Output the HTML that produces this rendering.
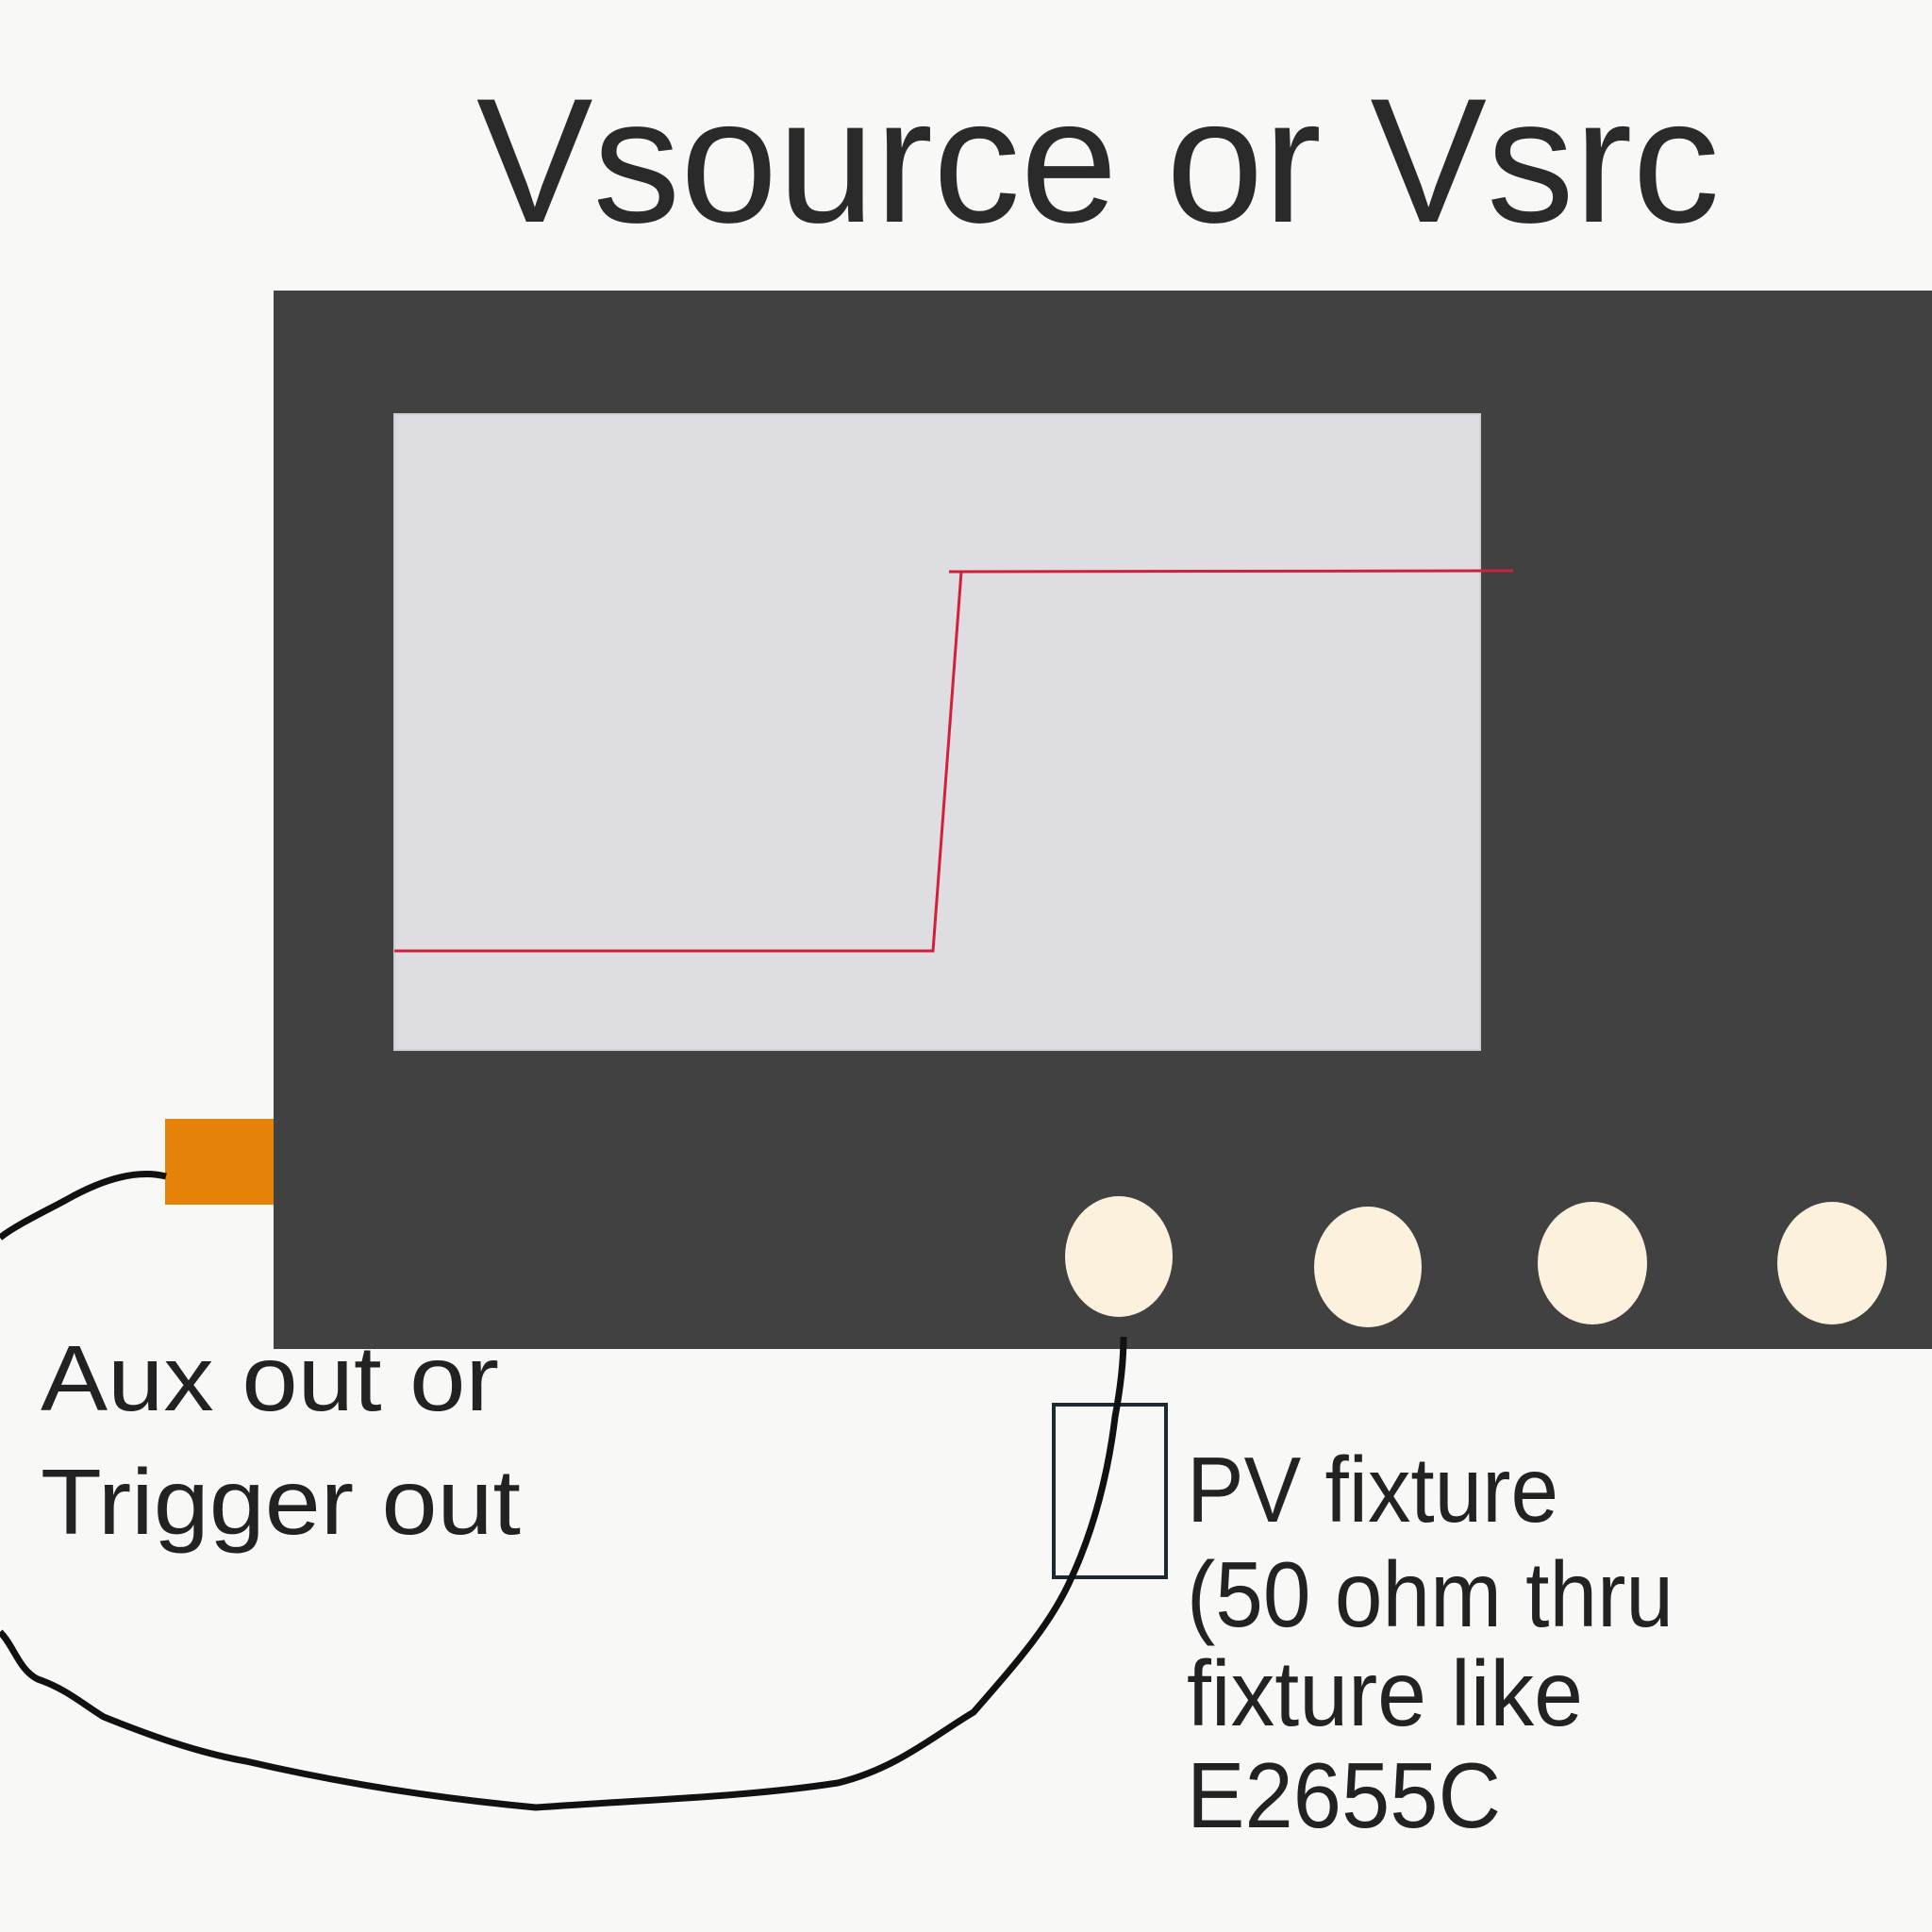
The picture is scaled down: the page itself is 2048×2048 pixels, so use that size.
<!DOCTYPE html>
<html><head><meta charset="utf-8"><style>
html,body{margin:0;padding:0;background:#f8f8f6;}
svg{display:block}
</style></head><body>
<svg width="2048" height="2048" viewBox="0 0 2048 2048" xmlns="http://www.w3.org/2000/svg">
<rect width="2048" height="2048" fill="#f8f8f6"/>
<text x="505" y="235" font-family="Liberation Sans, sans-serif" font-size="188" fill="#2a2a2a" textLength="1318" lengthAdjust="spacingAndGlyphs">Vsource or Vsrc</text>
<rect x="290" y="308" width="1758" height="1122" fill="#414141"/>
<rect x="418" y="439" width="1151" height="674" fill="#dedde2" stroke="#cfcfd2" stroke-width="2"/>
<polyline points="418,1008 989,1008 1019,606 1006,606 1604,605" fill="none" stroke="#d0203a" stroke-width="3"/>
<rect x="175" y="1186" width="115" height="91" fill="#e5820a"/>
<ellipse cx="1186" cy="1332" rx="57" ry="64" fill="#fbf1dc"/>
<ellipse cx="1450" cy="1343" rx="57" ry="64" fill="#fbf1dc"/>
<ellipse cx="1688" cy="1339" rx="58" ry="65" fill="#fbf1dc"/>
<ellipse cx="1942" cy="1339" rx="58" ry="65" fill="#fbf1dc"/>
<rect x="1117" y="1489" width="119" height="183" fill="none" stroke="#1a2a30" stroke-width="4"/>
<path d="M176,1247 C140,1238 100,1255 70,1272 C40,1288 15,1300 0,1312" fill="none" stroke="#111" stroke-width="7"/>
<path d="M0,1730 C15,1745 20,1770 40,1780 C70,1790 90,1808 110,1820 C160,1840 210,1858 261,1867 C360,1890 460,1906 568,1916 C680,1908 790,1905 888,1890 C950,1875 990,1840 1032,1815 C1080,1760 1115,1720 1136,1672 C1160,1620 1175,1560 1182,1502 C1188,1470 1191,1440 1191,1417" fill="none" stroke="#111" stroke-width="7"/>
<g font-family="Liberation Sans, sans-serif" font-size="98" fill="#222" lengthAdjust="spacingAndGlyphs">
<text x="43" y="1495" textLength="486" lengthAdjust="spacingAndGlyphs">Aux out or</text>
<text x="43" y="1626" textLength="509" lengthAdjust="spacingAndGlyphs">Trigger out</text>
<text x="1258" y="1613" textLength="394" lengthAdjust="spacingAndGlyphs">PV fixture</text>
<text x="1258" y="1724" textLength="516" lengthAdjust="spacingAndGlyphs">(50 ohm thru</text>
<text x="1258" y="1829" textLength="420" lengthAdjust="spacingAndGlyphs">fixture like</text>
<text x="1258" y="1937" textLength="333" lengthAdjust="spacingAndGlyphs">E2655C</text>
</g>
</svg>
</body></html>
